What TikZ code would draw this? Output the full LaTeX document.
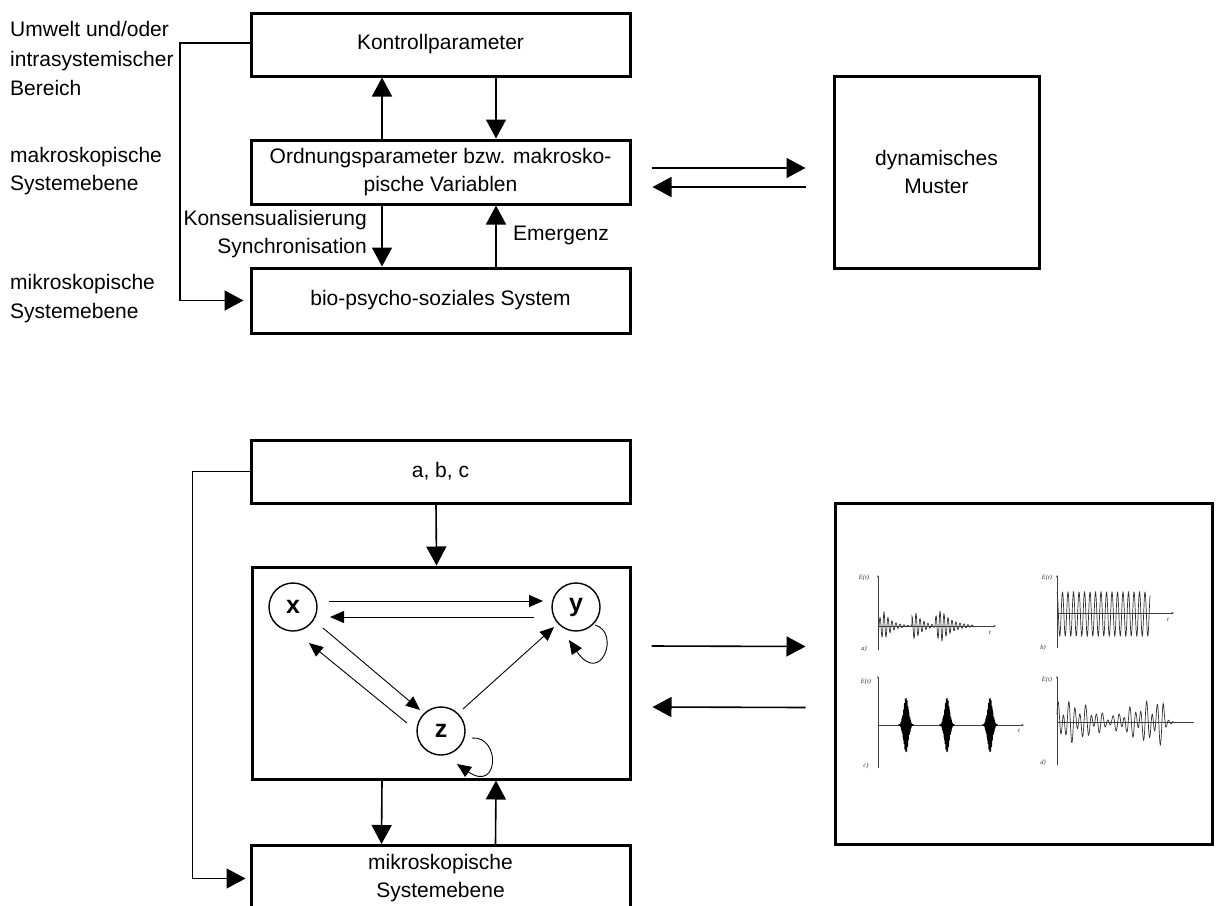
\documentclass[tikz,border=0pt]{standalone}
\usepackage{fontspec}
\setmainfont{Liberation Sans}
\newfontfamily\plotfont{Liberation Serif}
\usetikzlibrary{arrows.meta,calc}
\newcommand{\dtxt}{\fontsize{21}{28}\selectfont}
\newcommand{\ptxt}{\plotfont\itshape\fontsize{6.5}{7}\selectfont}

\begin{document}
\begin{tikzpicture}[x=1pt,y=-1pt,
  box/.style={draw, line width=3pt, minimum width=379pt, minimum height=63pt,
              inner sep=0pt, align=center, font=\dtxt},
  txt/.style={inner sep=0pt, font=\dtxt},
  conn/.style={line width=1.6pt, -{Triangle[length=19pt,width=20pt]}},
  sarrow/.style={line width=0.9pt, -{Triangle[length=14pt,width=12pt]}},
  gnode/.style={draw, circle, line width=1.4pt, minimum size=48pt, inner sep=0pt,
                font=\bfseries\fontsize{25}{25}\selectfont},
  sig/.style={line width=0.7pt, black!80},
  ax/.style={line width=0.7pt, black!75, -{Stealth[length=2.5pt,width=2pt]}},
  plab/.style={inner sep=0pt, font=\ptxt, black!80}]

\fill[white] (0,0) rectangle (1218,905);
\useasboundingbox (0,0) rectangle (1218,905);

% ---------- upper diagram ----------
\node[box] (kp)  at (440.5,44.5) {Kontrollparameter};
\node[box, minimum height=64pt] (op) at (440.5,172)
  {Ordnungsparameter bzw. makrosko-\\pische Variablen};
\node[box, minimum height=65pt] (bio) at (440.5,300.5) {bio-psycho-soziales System};
\node[box, minimum width=205pt, minimum height=192pt] (dyn) at (936.5,172)
  {dynamisches\\Muster};

\node[txt, anchor=west, align=left, font=\fontsize{21}{29.5}\selectfont] (l1) at (10,58.5)
  {Umwelt und/oder\\intrasystemischer\\Bereich};
\node[txt, anchor=west, align=left, font=\fontsize{21}{28.5}\selectfont] (l2) at (10,171)
  {makroskopische\\Systemebene};
\node[txt, anchor=west, align=left, font=\fontsize{21}{29}\selectfont] (l3) at (10,298.5)
  {mikroskopische\\Systemebene};

\node[txt, anchor=east, align=right] (ks) at (367,234)
  {Konsensualisierung\\Synchronisation};
\node[txt, anchor=west] (em) at (513,235) {Emergenz};

\draw[conn] ([xshift=-58.5pt]op.north) -- ([xshift=-58.5pt]kp.south);
\draw[conn] ([xshift=55.5pt]kp.south) -- ([xshift=55.5pt]op.north);
\draw[conn] ([xshift=-58.5pt]op.south) -- ([xshift=-58.5pt]bio.north);
\draw[conn] ([xshift=55.5pt]bio.north) -- ([xshift=55.5pt]op.south);

\draw[conn, shorten >=6pt] ([yshift=1.5pt]kp.west) -- ++(-69.5,0) |- (bio.west);

\draw[conn] ($(op.east)+(20,-4)$) -- ($(dyn.west)+(-27,-4)$);
\draw[conn] ($(dyn.west)+(-27,15)$) -- ($(op.east)+(21,15)$);

% ---------- lower diagram ----------
\node[box] (abc) at (440.5,471.5) {a, b, c};
\node[box, minimum width=378pt, minimum height=212pt] (sys) at (441,673) {};
\node[box, minimum height=66pt, anchor=north] (mik) at (440.5,844)
  {mikroskopische\\Systemebene};
\node[box, minimum width=377pt, minimum height=341pt] (rb) at (1023.5,673.5) {};

\draw[conn] ([xshift=-4.5pt]abc.south) -- ([xshift=-4.5pt]sys.north);
\draw[conn] ([xshift=-59pt]sys.south) -- ([xshift=-59pt]mik.north);
\draw[conn] ([xshift=55pt]mik.north) -- ([xshift=55pt]sys.south);

\draw[conn, line width=1.4pt, shorten >=4pt] (abc.west) -- ++(-57,0) |- (mik.west);

\draw[conn] ($(sys.east)+(20,-27)$) -- ($(rb.west)+(-28,-27)$);
\draw[conn] ($(rb.west)+(-28,34)$) -- ($(sys.east)+(21,34)$);

% variables and their couplings
\node[gnode] (x) at (293,607) {x};
\node[gnode] (y) at (576,607) {y};
\node[gnode] (z) at (441,731) {z};

\draw[sarrow] ($(x)+(36,-6)$) -- ($(y)+(-33,-6)$);
\draw[sarrow] ($(y)+(-42,10)$) -- ($(x)+(37,10)$);
\draw[sarrow] ($(x)+(30,21)$) -- ($(z)+(-21,-21)$);
\draw[sarrow] ($(z)+(-34,-8)$) -- ($(x)+(16,36)$);
\draw[sarrow] ($(z)+(22,-22)$) -- ($(y)+(-22,20)$);
\draw[sarrow] ($(y)+(19,18)$) .. controls ($(y)+(45,25)$) and ($(y)+(25,80)$) .. ($(y)+(-7,33)$);
\draw[sarrow] ($(z)+(31,7)$) .. controls ($(z)+(60,5)$) and ($(z)+(58,62)$) .. ($(z)+(16,33)$);

% ---------- time series E(t) ----------
% a) damped bursts
\draw[ax] (878,650) -- (878,575);
\draw[ax] (878,626) -- (996,626);
\draw[sig] plot[domain=878:975, samples=400]
  (\x, {626 - ((\x<912) ? 14*exp(-abs(\x-884)/8) :
                ((\x<935) ? 14*exp(-abs(\x-915)/8) : 16*exp(-abs(\x-941)/11)))
               * sin(90*(\x-883))});
\node[plab] (ea) at (864,578) {E(t)};
\node[plab] (ta) at (990,633) {t};
\node[plab] (na) at (864,649) {a)};

% b) periodic oscillation
\draw[ax] (1057,648) -- (1057,575);
\draw[ax] (1057,613) -- (1174,613);
\draw[sig] plot[domain=1057:1150, samples=400] (\x, {614 - 22*sin(65.45*(\x-1057)+90)});
\node[plab] (eb) at (1047,578) {E(t)};
\node[plab] (tb) at (1168,620) {t};
\node[plab] (nb) at (1043,648) {b)};

% c) short bursts
\draw[ax] (878,768) -- (878,676);
\draw[ax] (878,725) -- (1024,725);
\foreach \c in {906,947,990}{
  \draw[line width=0.8pt] plot[domain=\c-8:\c+8, samples=220]
    (\x, {725 - 28*exp(-((\x-\c)/3.2)^2)*sin(400*(\x-\c))});
}
\node[plab] (ec) at (866,682) {E(t)};
\node[plab] (tc) at (1019,731) {t};
\node[plab] (nc) at (866,766) {c)};

% d) irregular oscillation
\draw[ax] (1057,765) -- (1057,676);
\draw[line width=0.7pt, black!75] (1057,722) -- (1194,722);
\draw[sig] plot[domain=1057:1173, samples=450]
  (\x, {722 - (0.25+0.75*abs(cos(1.7*(\x-1057))))
              * exp(-max(\x-1163,0)/4)
              * (15*sin(65*(\x-1057)+30) + 8*sin(41*(\x-1057)))});
\node[plab] (ed) at (1047,680) {E(t)};
\node[plab] (nd) at (1043,763) {d)};

\end{tikzpicture}
\end{document}
